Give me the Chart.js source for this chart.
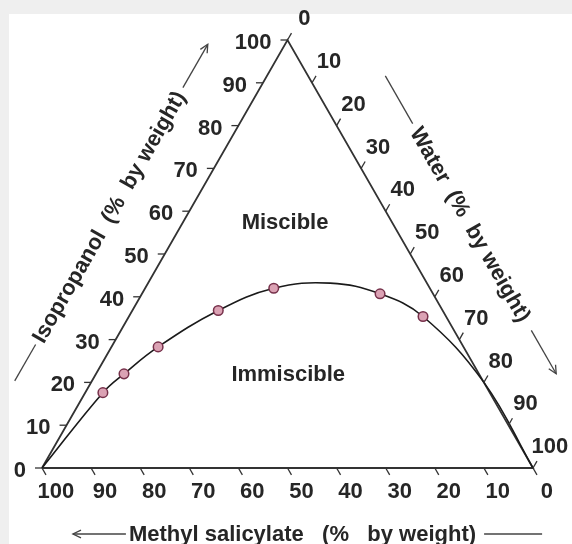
<!DOCTYPE html>
<html>
<head>
<meta charset="utf-8">
<script src="https://cdn.jsdelivr.net/npm/chart.js@4.4.0/dist/chart.umd.min.js"></script>
<style>
  html, body { margin: 0; padding: 0; background: #efefef; }
  #wrap { position: absolute; left: 0; top: 0; width: 572px; height: 544px; }
</style>
</head>
<body>
<div id="wrap"><canvas id="c" width="572" height="544"></canvas></div>
<script>
// Measured compositions on the phase boundary (% by weight)
const isopropanol      = [17.6, 22.0, 28.3, 36.8, 42.0, 40.7, 35.4];
const water            = [3.6, 5.7, 9.5, 17.5, 26.2, 48.5, 59.9];
const methylSalicylate = [78.8, 72.3, 62.2, 45.7, 31.8, 10.8, 4.7];

// Binodal boundary from pure methyl salicylate round to the water corner
const boundaryIsopropanol = [0, 17.6, 22.0, 28.3, 36.8, 42.0, 43.2, 40.7, 35.4, 20.0, 0];
const boundaryWater       = [0, 3.6, 5.7, 9.5, 17.5, 26.2, 37.1, 48.5, 59.9, 80.0, 100];

// Scale graduations on every side (% by weight)
const tickValues = [0, 10, 20, 30, 40, 50, 60, 70, 80, 90, 100];

const FONT = 'bold 22px "Liberation Sans", Arial, sans-serif';
const INK = '#262626';

// Ternary composition -> plane: methyl salicylate corner at (0,0),
// water corner at (1,0), isopropanol apex at (0.5,1)
function toXY(iso, wat) {
  return { x: wat / 100 + iso / 200, y: iso / 100 };
}

const markerPoints = isopropanol.map((v, i) => toXY(v, water[i]));
const boundaryPoints = boundaryIsopropanol.map((v, i) => toXY(v, boundaryWater[i]));
const outline = [toXY(0, 0), toXY(0, 100), toXY(100, 0), toXY(0, 0)];

function px(chart, iso, wat) {
  const p = toXY(iso, wat);
  return { x: chart.scales.x.getPixelForValue(p.x), y: chart.scales.y.getPixelForValue(p.y) };
}
function unit(a, b) {
  const dx = b.x - a.x, dy = b.y - a.y, l = Math.hypot(dx, dy);
  return { x: dx / l, y: dy / l };
}
function arrowHead(ctx, x, y, ang, size) {
  ctx.beginPath();
  ctx.moveTo(x - size * Math.cos(ang - 0.45), y - size * Math.sin(ang - 0.45));
  ctx.lineTo(x, y);
  ctx.lineTo(x - size * Math.cos(ang + 0.45), y - size * Math.sin(ang + 0.45));
  ctx.stroke();
}

// Title laid along a side, with a rule before and after it
function sideTitle(ctx, cx, cy, ang, text, lead, trail) {
  ctx.save();
  ctx.translate(cx, cy);
  ctx.rotate(ang);
  ctx.font = FONT;
  ctx.fillStyle = INK;
  ctx.textAlign = 'center';
  ctx.textBaseline = 'middle';
  ctx.fillText(text, 0, 0);
  const w = ctx.measureText(text).width;
  ctx.strokeStyle = '#444';
  ctx.lineWidth = 1.3;
  const ly = -1;
  ctx.beginPath();
  ctx.moveTo(-w / 2 - lead.gap - lead.len, ly);
  ctx.lineTo(-w / 2 - lead.gap, ly);
  ctx.stroke();
  if (lead.head) arrowHead(ctx, -w / 2 - lead.gap - lead.len, ly, Math.PI, 9);
  ctx.beginPath();
  ctx.moveTo(w / 2 + trail.gap, ly);
  ctx.lineTo(w / 2 + trail.gap + trail.len, ly);
  ctx.stroke();
  if (trail.head) arrowHead(ctx, w / 2 + trail.gap + trail.len, ly, 0, 9);
  ctx.restore();
}

const ternaryFrame = {
  id: 'ternaryFrame',
  beforeDraw(chart) {
    const ctx = chart.ctx;
    ctx.save();
    ctx.fillStyle = '#efefef';
    ctx.fillRect(0, 0, chart.width, chart.height);
    ctx.fillStyle = '#ffffff';
    ctx.fillRect(9, 14, chart.width - 9, chart.height - 14);
    ctx.restore();
  },
  afterDatasetsDraw(chart) {
    const ctx = chart.ctx;
    const L = px(chart, 0, 0), R = px(chart, 0, 100), A = px(chart, 100, 0);
    const dLeft = unit(R, L);    // ticks on the isopropanol side
    const dBottom = unit(A, R);  // ticks on the methyl salicylate side
    const dRight = unit(L, A);   // ticks on the water side

    ctx.save();
    ctx.strokeStyle = '#333';
    ctx.lineWidth = 1.3;
    ctx.fillStyle = INK;
    ctx.font = FONT;

    tickValues.forEach(v => {
      // isopropanol scale, left side
      const pl = px(chart, v, 0);
      ctx.beginPath();
      ctx.moveTo(pl.x, pl.y);
      ctx.lineTo(pl.x + dLeft.x * 7, pl.y + dLeft.y * 7);
      ctx.stroke();
      ctx.textAlign = 'right';
      ctx.textBaseline = 'middle';
      ctx.fillText(String(v), pl.x + dLeft.x * 16, pl.y + dLeft.y * 16 + 3);

      // methyl salicylate scale, bottom side
      const pb = px(chart, 0, 100 - v);
      ctx.beginPath();
      ctx.moveTo(pb.x, pb.y);
      ctx.lineTo(pb.x + dBottom.x * 8, pb.y + dBottom.y * 8);
      ctx.stroke();
      ctx.textAlign = 'center';
      ctx.fillText(String(v), pb.x + dBottom.x * 28, pb.y + dBottom.y * 28);

      // water scale, right side
      const pr = px(chart, 100 - v, v);
      ctx.beginPath();
      ctx.moveTo(pr.x, pr.y);
      ctx.lineTo(pr.x + dRight.x * 8, pr.y + dRight.y * 8);
      ctx.stroke();
      ctx.textAlign = 'center';
      ctx.fillText(String(v), pr.x + dRight.x * 24 + 5, pr.y + dRight.y * 24);
    });

    // region names
    const mis = px(chart, 57.2, 20.9);
    const imm = px(chart, 21.7, 39.3);
    ctx.textAlign = 'center';
    ctx.textBaseline = 'middle';
    ctx.fillText('Miscible', mis.x, mis.y);
    ctx.fillText('Immiscible', imm.x, imm.y);
    ctx.restore();

    // axis titles
    const off = 66;
    const uL = unit(L, A), nL = { x: uL.y, y: -uL.x };
    const cL = { x: L.x + uL.x * 251 + nL.x * off, y: L.y + uL.y * 251 + nL.y * off };
    sideTitle(ctx, cL.x, cL.y, Math.atan2(uL.y, uL.x), 'Isopropanol  (%  by weight)',
      { gap: 4, len: 42, head: false }, { gap: 6, len: 50, head: true });

    const uR = unit(A, R), nR = { x: -uR.y, y: uR.x };
    const cR = { x: A.x + uR.x * 251 - nR.x * off, y: A.y + uR.y * 251 - nR.y * off };
    sideTitle(ctx, cR.x, cR.y, Math.atan2(uR.y, uR.x), 'Water  (%  by weight)',
      { gap: 6, len: 55, head: false }, { gap: 12, len: 50, head: true });

    sideTitle(ctx, (L.x + R.x) / 2 + 15, L.y + 67, 0, 'Methyl salicylate   (%   by weight)',
      { gap: 3, len: 53, head: true }, { gap: 8, len: 58, head: false });
  }
};

new Chart(document.getElementById('c'), {
  type: 'scatter',
  data: {
    datasets: [
      {
        label: 'Tie-line ends',
        data: markerPoints,
        showLine: false,
        pointRadius: 4.8,
        pointBackgroundColor: '#dba2b4',
        pointBorderColor: '#76304a',
        pointBorderWidth: 1.5,
        clip: false
      },
      {
        label: 'Binodal',
        data: boundaryPoints,
        showLine: true,
        tension: 0.4,
        borderColor: '#1a1a1a',
        borderWidth: 1.6,
        pointRadius: 0,
        clip: false
      },
      {
        label: 'Outline',
        data: outline,
        showLine: true,
        tension: 0,
        borderColor: '#333',
        borderWidth: 1.8,
        pointRadius: 0,
        clip: false
      }
    ]
  },
  options: {
    responsive: false,
    animation: false,
    events: [],
    layout: { padding: 0, autoPadding: false },
    plugins: { legend: { display: false }, tooltip: { enabled: false } },
    scales: {
      x: { type: 'linear', display: false, min: -0.08554, max: 1.07943 },
      y: { type: 'linear', display: false, min: -0.17757, max: 1.09346 }
    }
  },
  plugins: [ternaryFrame]
});
</script>
</body>
</html>
